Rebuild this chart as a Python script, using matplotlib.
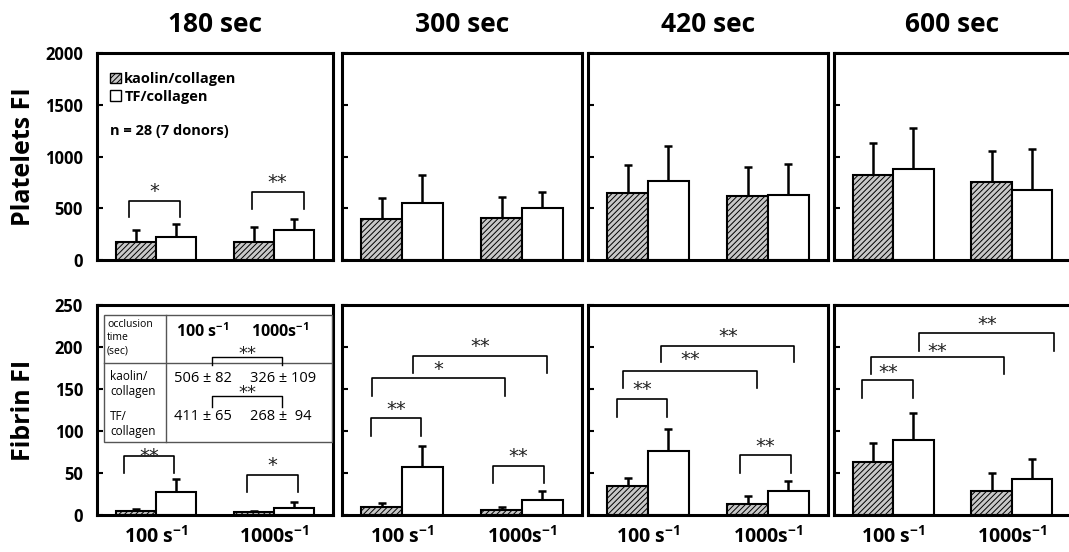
import matplotlib
matplotlib.use("Agg")
import matplotlib.pyplot as plt
from matplotlib.patches import Patch, Rectangle

plt.rcParams['font.family'] = ['Open Sans', 'DejaVu Sans']
plt.rcParams['font.weight'] = 'bold'
plt.rcParams['mathtext.fontset'] = 'custom'
plt.rcParams['mathtext.rm'] = 'Open Sans'
plt.rcParams['mathtext.bf'] = 'Open Sans:bold'
plt.rcParams['mathtext.default'] = 'bf'
plt.rcParams['hatch.linewidth'] = 0.7
plt.rcParams['hatch.color'] = '#333333'

# ---- data (mean, SD), rows = time, cols = [100 s-1, 1000 s-1]
times = ['180 sec', '300 sec', '420 sec', '600 sec']
shear_labels = ['100 s$^{-1}$', '1000s$^{-1}$']
series_labels = ['kaolin/collagen', 'TF/collagen']

plt_kaolin = [[175, 175], [394, 406], [652, 623], [826, 752]]
plt_kaolin_sd = [[115, 141], [206, 207], [267, 277], [300, 303]]
plt_tf = [[219, 290], [555, 503], [765, 629], [877, 677]]
plt_tf_sd = [[126, 104], [268, 158], [332, 300], [394, 394]]

fib_kaolin = [[5.2, 3.2], [10, 6], [34.5, 12.7], [63.5, 29]]
fib_kaolin_sd = [[2.3, 1.6], [4.7, 3.5], [9.2, 9.5], [22.6, 20.6]]
fib_tf = [[27.8, 8.3], [57, 17.9], [75.8, 28.2], [89.3, 42.5]]
fib_tf_sd = [[15.2, 7.6], [25, 10.7], [27, 12.7], [32.1, 24.2]]

# significance brackets: (x left, x right, leg bottom, bar y, label, label y)
plt_sig = [
    [(-0.23, 0.20, 413, 568, '*', 710), (0.81, 1.25, 497, 661, '**', 800)],
    [], [], [],
]
fib_sig = [
    [(-0.27, 0.15, 49.6, 70.6, '**', 76), (0.77, 1.20, 27, 47.6, '*', 65)],
    [(-0.26, 0.16, 94.4, 115.5, '**', 131), (-0.25, 0.86, 141.7, 162.7, '*', 178.6),
     (0.09, 1.21, 169.4, 189, '**', 206), (0.76, 1.18, 38.5, 58.3, '**', 75.4)],
    [(-0.26, 0.16, 117, 138, '**', 155), (-0.21, 0.91, 150.8, 171.8, '**', 190.5),
     (0.11, 1.22, 182.5, 201.6, '**', 218), (0.77, 1.19, 50.4, 71, '**', 87.3)],
    [(-0.26, 0.17, 139.7, 160.7, '**', 175.8), (-0.19, 0.935, 167.5, 187.7, '**', 200),
     (0.22, 1.36, 195.2, 217, '**', 233)],
]

# occlusion time table (mean ± SD, sec)
occl_kaolin = ['506 ± 82', '326 ± 109']
occl_tf = ['411 ± 65', '268 ±  94']

groups = [0, 1]
bw = 0.34
HATCH_FC = '#c8c8c8'


def draw_panel(ax, kao, kao_sd, tf, tf_sd, sigs, ymax, ystep):
    xk = [g - bw / 2 for g in groups]
    xt = [g + bw / 2 for g in groups]
    ax.bar(xk, kao, bw, facecolor=HATCH_FC, edgecolor='k', hatch='//////',
           linewidth=1.5, zorder=2)
    ax.bar(xt, tf, bw, facecolor='white', edgecolor='k', linewidth=1.5, zorder=2)
    for xs, ys, sd in ((xk, kao, kao_sd), (xt, tf, tf_sd)):
        ax.errorbar(xs, ys, yerr=[[0] * len(sd), sd], fmt='none', ecolor='k',
                    elinewidth=1.8, capsize=3, capthick=1.8, zorder=1)
    for x1, x2, y0, y1, lab, ylab in sigs:
        ax.plot([x1, x1, x2, x2], [y0, y1, y1, y0], color='k', lw=1.2,
                solid_joinstyle='round', zorder=3)
        ax.annotate(lab, ((x1 + x2) / 2, ylab), xytext=(0, -3.5),
                    textcoords='offset points', ha='center', va='center',
                    fontsize=14, fontweight='normal', family='DejaVu Sans',
                    color='#222222')
    ax.set_xlim(-0.5, 1.5)
    ax.set_ylim(0, ymax)
    ax.set_yticks(range(0, ymax + 1, ystep))
    ax.tick_params(axis='y', direction='in', length=4, width=1.5, pad=10,
                   labelsize=12)
    ax.tick_params(axis='x', length=0, pad=8, labelsize=14)
    for s in ax.spines.values():
        s.set_linewidth(2.2)


W, H = 1069, 552
lefts = [97, 342, 588, 834]
widths = [236, 240, 240, 237]

fig = plt.figure(figsize=(W / 100, H / 100), dpi=100)
top_axes, bot_axes = [], []
for i in range(4):
    axt = fig.add_axes([lefts[i] / W, (H - 260) / H, widths[i] / W, 207 / H])
    axb = fig.add_axes([lefts[i] / W, (H - 515) / H, widths[i] / W, 210 / H])
    draw_panel(axt, plt_kaolin[i], plt_kaolin_sd[i], plt_tf[i], plt_tf_sd[i],
               plt_sig[i], 2000, 500)
    draw_panel(axb, fib_kaolin[i], fib_kaolin_sd[i], fib_tf[i], fib_tf_sd[i],
               fib_sig[i], 250, 50)
    axt.set_xticks([])
    axb.set_xticks(groups)
    axb.set_xticklabels(shear_labels)
    axt.set_title(times[i], fontsize=19, fontweight='bold', pad=15)
    if i > 0:
        axt.tick_params(labelleft=False)
        axb.tick_params(labelleft=False)
    top_axes.append(axt)
    bot_axes.append(axb)

top_axes[0].set_ylabel('Platelets FI', fontsize=18, fontweight='bold')
bot_axes[0].set_ylabel('Fibrin FI', fontsize=18, fontweight='bold')
top_axes[0].yaxis.set_label_coords(-0.26, 0.5)
bot_axes[0].yaxis.set_label_coords(-0.26, 0.5)

# legend and n in first platelet panel
ax0 = top_axes[0]
handles = [Patch(facecolor=HATCH_FC, edgecolor='k', hatch='//////', linewidth=1),
           Patch(facecolor='white', edgecolor='k', linewidth=1)]
ax0.legend(handles, series_labels, loc='upper left', bbox_to_anchor=(0.02, 0.95),
           frameon=False, fontsize=10.5, handlelength=0.75, handleheight=0.75,
           handletextpad=0.2, labelspacing=0.25, borderaxespad=0.2)
ax0.text(0.055, 0.625, 'n = 28 (7 donors)', transform=ax0.transAxes,
         fontsize=10.5, fontweight='bold', va='center')

# occlusion time inset table in first fibrin panel
axf = bot_axes[0]
tr = axf.transAxes
tx0, tx1, tdiv = 0.030, 0.996, 0.292
ty0, ty1, thdiv = 0.348, 0.952, 0.724
axf.add_patch(Rectangle((tx0, ty0), tx1 - tx0, ty1 - ty0, transform=tr,
                        facecolor='white', edgecolor='#555555', lw=1.0, zorder=4))
axf.plot([tdiv, tdiv], [ty0, ty1], transform=tr, color='#555555', lw=1.0, zorder=5)
axf.plot([tx0, tx1], [thdiv, thdiv], transform=tr, color='#555555', lw=1.0, zorder=5)

axf.text(0.042, 0.843, 'occlusion\ntime\n(sec)', transform=tr, fontsize=7.5,
         fontweight='normal', va='center', linespacing=1.3, zorder=6)
axf.text(0.335, 0.871, shear_labels[0], transform=tr, fontsize=11.5,
         fontweight='bold', va='center', zorder=6)
axf.text(0.653, 0.871, shear_labels[1], transform=tr, fontsize=11.5,
         fontweight='bold', va='center', zorder=6)
axf.text(0.055, 0.624, 'kaolin/\ncollagen', transform=tr, fontsize=8.5,
         fontweight='normal', va='center', linespacing=1.25, zorder=6)
axf.text(0.055, 0.433, 'TF/\ncollagen', transform=tr, fontsize=8.5,
         fontweight='normal', va='center', linespacing=1.25, zorder=6)
for j, xpos in enumerate([0.326, 0.648]):
    axf.text(xpos, 0.652, occl_kaolin[j], transform=tr, fontsize=10.5,
             fontweight='normal', va='center', zorder=6)
    axf.text(xpos, 0.467, occl_tf[j], transform=tr, fontsize=10.5,
             fontweight='normal', va='center', zorder=6)
for y0, y1, ylab in [(0.714, 0.752, 0.786), (0.514, 0.567, 0.600)]:
    axf.plot([0.487, 0.487, 0.784, 0.784], [y0, y1, y1, y0], transform=tr,
             color='k', lw=1.0, zorder=6)
    axf.annotate('**', (0.636, ylab), xycoords=tr, xytext=(0, -3),
                 textcoords='offset points', ha='center', va='center',
                 fontsize=13, fontweight='normal', family='DejaVu Sans',
                 color='#222222', zorder=6)

fig.savefig('out.png', dpi=100)
